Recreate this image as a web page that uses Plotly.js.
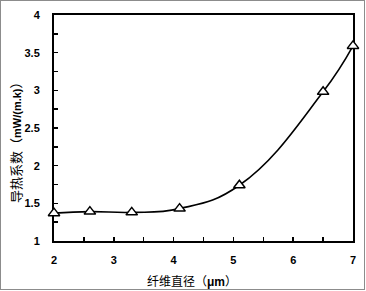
<!DOCTYPE html>
<html>
<head>
<meta charset="utf-8">
<script src="https://cdn.plot.ly/plotly-3.0.1.min.js"></script>
<style>
html,body{margin:0;padding:0;background:#fff;}
#wrap{position:relative;width:366px;height:291px;}
#chart{position:absolute;left:0;top:0;width:366px;height:291px;}
#frame{position:absolute;left:0;top:0;width:365px;height:290px;box-sizing:border-box;border:1px solid #8c8c8c;pointer-events:none;}
</style>
</head>
<body>
<div id="wrap"><div id="chart"></div><div id="frame"></div></div>
<script>
const fiberDiameter = [2, 2.6, 3.3, 4.1, 5.1, 6.5, 7];
const conductivity = [1.37, 1.39, 1.38, 1.43, 1.74, 2.98, 3.59];
const xTitle = '纤维直径（<span style="font-family:Liberation Sans"><b>μm</b></span>）';
const yTitle = '导热系数（<span style="font-family:Liberation Sans;font-size:11px"><b>mW/(m.k)</b></span>）';

const numFont = {family: 'Liberation Sans, Arial, sans-serif', size: 11, color: '#000', weight: 'bold'};
const cjkFont = {family: 'Noto Sans CJK SC, sans-serif', size: 12, color: '#000'};
const cjkFontY = {family: 'Noto Sans CJK SC, sans-serif', size: 13, color: '#000'};

const trace = {
  x: fiberDiameter,
  y: conductivity,
  type: 'scatter',
  mode: 'lines+markers',
  line: {color: '#000', width: 1.6, shape: 'spline', smoothing: 1.25},
  marker: {symbol: 'triangle-up', size: 10, color: '#fff', line: {color: '#000', width: 1.5}},
  cliponaxis: false,
  hoverinfo: 'skip'
};

const layout = {
  width: 366, height: 291,
  margin: {l: 54, r: 13, t: 15, b: 50},
  paper_bgcolor: '#fff', plot_bgcolor: '#fff',
  showlegend: false,
  xaxis: {
    range: [2, 7], dtick: 1, tick0: 2,
    showgrid: false, zeroline: false,
    showline: true, linecolor: '#000', linewidth: 2, mirror: true,
    ticks: 'inside', ticklen: 4, tickwidth: 1.5, tickcolor: '#000',
    minor: {dtick: 0.5, ticks: 'inside', ticklen: 4, tickwidth: 1.5, tickcolor: '#000', showgrid: false},
    tickfont: numFont, ticklabelstandoff: 8,
    layer: 'below traces'
  },
  yaxis: {
    range: [1, 4], dtick: 0.5, tick0: 1,
    showgrid: false, zeroline: false,
    showline: true, linecolor: '#000', linewidth: 2, mirror: true,
    ticks: 'inside', ticklen: 4, tickwidth: 1.5, tickcolor: '#000',
    minor: {dtick: 0.25, ticks: 'inside', ticklen: 4, tickwidth: 1.5, tickcolor: '#000', showgrid: false},
    tickfont: numFont, ticklabelstandoff: 10,
    layer: 'below traces'
  },
  annotations: [
    {text: xTitle, xref: 'paper', yref: 'paper', x: (192 - 54) / 299, y: -(280 - 241) / 226,
     xanchor: 'center', yanchor: 'middle', showarrow: false, font: cjkFont},
    {text: yTitle, xref: 'paper', yref: 'paper', x: -(54 - 15) / 299, y: (241 - 139) / 226,
     xanchor: 'center', yanchor: 'middle', textangle: -90, showarrow: false, font: cjkFontY}
  ]
};

Plotly.newPlot('chart', [trace], layout, {displayModeBar: false, staticPlot: true});
</script>
</body>
</html>
